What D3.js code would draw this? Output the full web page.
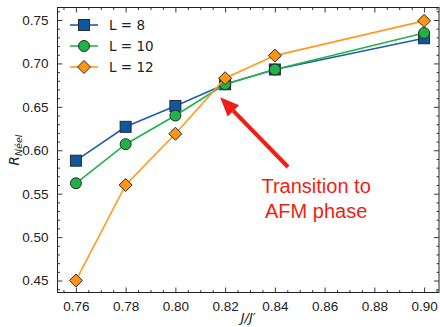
<!DOCTYPE html>
<html>
<head>
<meta charset="utf-8">
<script src="https://cdn.jsdelivr.net/npm/d3@7/dist/d3.min.js"></script>
<style>
  body { margin: 0; background: #fff; }
  svg { display: block; font-family: "DejaVu Sans", sans-serif; }
</style>
</head>
<body>
<svg id="chart" width="440" height="327"></svg>
<script>
// data
var ratios = [0.76, 0.78, 0.80, 0.82, 0.84, 0.90];
var rL8  = [0.588, 0.627, 0.651, 0.676, 0.693, 0.729];
var rL10 = [0.562, 0.607, 0.640, 0.676, 0.693, 0.735];
var rL12 = [0.450, 0.560, 0.619, 0.683, 0.709, 0.749];
var seriesNames = ["L = 8", "L = 10", "L = 12"];
var xTicks = [0.76, 0.78, 0.80, 0.82, 0.84, 0.86, 0.88, 0.90];
var yTicks = [0.45, 0.50, 0.55, 0.60, 0.65, 0.70, 0.75];

var series = [
  {name: seriesNames[0], vals: rL8,  line: "#1f5ea8", fill: "#0f57a0", shape: "square"},
  {name: seriesNames[1], vals: rL10, line: "#22b24c", fill: "#1db346", shape: "circle"},
  {name: seriesNames[2], vals: rL12, line: "#ff9a1f", fill: "#ff9416", shape: "diamond"}
];

// plot box (window.top is reserved, so prefix the names)
var pLeft = 57.5, pRight = 439, pTop = 7.5, pBottom = 292.5;

var svg = d3.select("#chart");

var x = d3.scaleLinear().domain([0.7526, 0.9060]).range([pLeft, pRight]);
var y = d3.scaleLinear().domain([0.4362, 0.7644]).range([pBottom, pTop]);

var xMinor = d3.range(0.755, 0.9051, 0.005).filter(function(v){
  return Math.abs(Math.round(v / 0.02) * 0.02 - v) > 1e-6;
});
var yMinor = d3.range(0.44, 0.7641, 0.01).filter(function(v){
  return Math.abs(Math.round(v / 0.05) * 0.05 - v) > 1e-6;
});

function tickStyle(g) {
  g.select(".domain").remove();
  g.selectAll("line").attr("stroke", "#222").attr("stroke-width", 0.9);
  g.selectAll("text").attr("fill", "#222").style("font-size", "13.5px");
}

// bottom axis
svg.append("g")
  .attr("transform", "translate(0," + pBottom + ")")
  .call(d3.axisBottom(x).tickValues(xTicks).tickFormat(d3.format(".2f")).tickSizeInner(-5).tickPadding(9))
  .call(tickStyle);
svg.append("g")
  .attr("transform", "translate(0," + pBottom + ")")
  .call(d3.axisBottom(x).tickValues(xMinor).tickFormat("").tickSizeInner(-2.5))
  .call(tickStyle);
// top
svg.append("g")
  .attr("transform", "translate(0," + pTop + ")")
  .call(d3.axisTop(x).tickValues(xTicks).tickFormat("").tickSizeInner(-5))
  .call(tickStyle);
svg.append("g")
  .attr("transform", "translate(0," + pTop + ")")
  .call(d3.axisTop(x).tickValues(xMinor).tickFormat("").tickSizeInner(-2.5))
  .call(tickStyle);
// left
svg.append("g")
  .attr("transform", "translate(" + pLeft + ",0)")
  .call(d3.axisLeft(y).tickValues(yTicks).tickFormat(d3.format(".2f")).tickSizeInner(-5).tickPadding(9))
  .call(tickStyle);
svg.append("g")
  .attr("transform", "translate(" + pLeft + ",0)")
  .call(d3.axisLeft(y).tickValues(yMinor).tickFormat("").tickSizeInner(-2.5))
  .call(tickStyle);
// right
svg.append("g")
  .attr("transform", "translate(" + pRight + ",0)")
  .call(d3.axisRight(y).tickValues(yTicks).tickFormat("").tickSizeInner(-5))
  .call(tickStyle);
svg.append("g")
  .attr("transform", "translate(" + pRight + ",0)")
  .call(d3.axisRight(y).tickValues(yMinor).tickFormat("").tickSizeInner(-2.5))
  .call(tickStyle);

// frame
svg.append("rect")
  .attr("x", pLeft).attr("y", pTop)
  .attr("width", pRight - pLeft).attr("height", pBottom - pTop)
  .attr("fill", "none").attr("stroke", "#222").attr("stroke-width", 1);

// axis titles
svg.append("text")
  .attr("x", (pLeft + pRight) / 2).attr("y", 322)
  .attr("text-anchor", "middle")
  .style("font-size", "13px").style("font-style", "italic").attr("fill", "#222")
  .text("J/J\u2032");

var yl = svg.append("text")
  .attr("transform", "translate(19,150) rotate(-90)")
  .attr("text-anchor", "middle")
  .style("font-size", "13.5px").style("font-style", "italic").attr("fill", "#222");
yl.append("tspan").text("R");
yl.append("tspan").attr("dy", 3).style("font-size", "9.5px").text("Néel");

function drawMarker(g, shape, fill) {
  if (shape === "square") {
    g.append("rect").attr("x", -5.5).attr("y", -5.5).attr("width", 11).attr("height", 11)
      .attr("fill", fill).attr("stroke", "#2a2a2a").attr("stroke-width", 1);
  } else if (shape === "circle") {
    g.append("circle").attr("r", 5.5)
      .attr("fill", fill).attr("stroke", "#2a2a2a").attr("stroke-width", 1);
  } else {
    g.append("path").attr("d", "M0,-6.5L6.5,0L0,6.5L-6.5,0Z")
      .attr("fill", fill).attr("stroke", "#2a2a2a").attr("stroke-width", 1);
  }
}

var line = d3.line()
  .x(function(d){ return x(d[0]); })
  .y(function(d){ return y(d[1]); });

series.forEach(function(s){
  var pts = ratios.map(function(r, i){ return [r, s.vals[i]]; });
  svg.append("path")
    .attr("d", line(pts))
    .attr("fill", "none").attr("stroke", s.line).attr("stroke-width", 1.6);
  pts.forEach(function(p){
    var g = svg.append("g").attr("transform", "translate(" + x(p[0]) + "," + y(p[1]) + ")");
    drawMarker(g, s.shape, s.fill);
  });
});

// legend
series.forEach(function(s, i){
  var ly = 25 + i * 21;
  svg.append("line").attr("x1", 70).attr("x2", 98).attr("y1", ly).attr("y2", ly)
    .attr("stroke", s.line).attr("stroke-width", 1.6);
  var g = svg.append("g").attr("transform", "translate(84," + ly + ")");
  drawMarker(g, s.shape, s.fill);
  svg.append("text").attr("x", 109).attr("y", ly + 5)
    .style("font-size", "13.5px").attr("fill", "#222").text(s.name);
});

// annotation arrow
var tip = [x(0.818), y(0.661)], tail = [x(0.8453), y(0.5807)];
var ang = Math.atan2(tip[1] - tail[1], tip[0] - tail[0]);
var headLen = 19, headW = 8;
var base = [tip[0] - headLen * Math.cos(ang), tip[1] - headLen * Math.sin(ang)];
svg.append("line")
  .attr("x1", tail[0]).attr("y1", tail[1]).attr("x2", base[0]).attr("y2", base[1])
  .attr("stroke", "#f01e14").attr("stroke-width", 4);
var px = -Math.sin(ang), py = Math.cos(ang);
svg.append("path")
  .attr("d", "M" + tip[0] + "," + tip[1] +
    "L" + (base[0] + px * headW) + "," + (base[1] + py * headW) +
    "L" + (base[0] - px * headW) + "," + (base[1] - py * headW) + "Z")
  .attr("fill", "#f01e14");

svg.append("text")
  .attr("x", x(0.8566)).attr("y", y(0.5508))
  .attr("text-anchor", "middle").style("font-size", "20px")
  .style("font-family", "Liberation Sans, sans-serif").attr("fill", "#f01e14")
  .text("Transition to");
svg.append("text")
  .attr("x", x(0.8566)).attr("y", y(0.522))
  .attr("text-anchor", "middle").style("font-size", "20px")
  .style("font-family", "Liberation Sans, sans-serif").attr("fill", "#f01e14")
  .text("AFM phase");
</script>
</body>
</html>
